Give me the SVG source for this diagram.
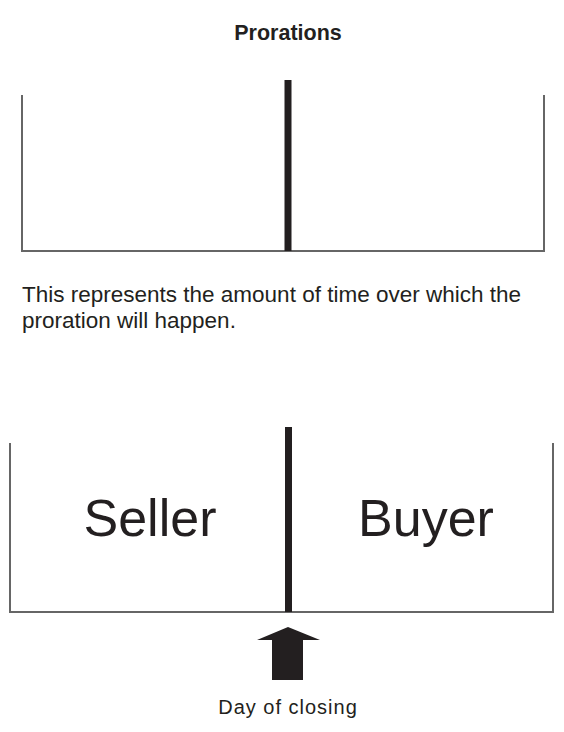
<svg xmlns="http://www.w3.org/2000/svg" width="564" height="732" viewBox="0 0 564 732">
<style>
.frame{fill:none;stroke:#666;stroke-width:2}
.bar{fill:#231f20}
.t{font-family:"Liberation Sans",Arial,sans-serif;fill:#231f20}
</style>
<rect width="564" height="732" fill="#fff"/>
<text class="t" x="288" y="40" font-size="21.5" font-weight="bold" text-anchor="middle">Prorations</text>
<g id="timeline-top">
<polyline class="frame" points="22,95 22,251 544,251 544,95"/>
<rect class="bar" x="284.5" y="80" width="7" height="171"/>
</g>
<g id="description">
<text class="t" x="22" y="302" font-size="22.5">This represents the amount of time over which the</text>
<text class="t" x="22" y="328" font-size="22.5">proration will happen.</text>
</g>
<g id="timeline-bottom">
<polyline class="frame" points="10,443 10,612 553,612 553,443"/>
<rect class="bar" x="285" y="427" width="7" height="185"/>
<text class="t" x="150" y="536" font-size="52" text-anchor="middle">Seller</text>
<text class="t" x="426" y="536" font-size="52" text-anchor="middle">Buyer</text>
</g>
<g id="connectors">
<polygon class="bar" points="288,627 320,640 303,640 303,680 272,680 272,640 257,640"/>
</g>
<text class="t" x="288" y="714" font-size="20" letter-spacing="1" text-anchor="middle" fill="#333">Day of closing</text>
</svg>
